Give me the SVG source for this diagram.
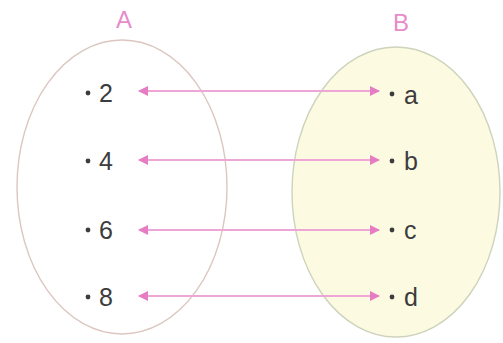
<svg xmlns="http://www.w3.org/2000/svg" width="503" height="343" viewBox="0 0 503 343">
<style>
.set{font-family:"Liberation Sans",Arial,sans-serif;font-size:24px;fill:#e68ccb;text-anchor:middle}
.el{font-family:"Liberation Sans",Arial,sans-serif;font-size:25px;fill:#3c3c3c}
.dot{fill:#3c3c3c}
.arr{stroke:#eea6d6;stroke-width:1.8;fill:none;marker-start:url(#ah);marker-end:url(#ah)}
</style>
<defs>
<marker id="ah" viewBox="0 0 10 10" refX="9" refY="5" markerWidth="12" markerHeight="10" orient="auto-start-reverse" markerUnits="userSpaceOnUse">
<path d="M0,0 L10,5 L0,10 z" fill="#e67cc4"/>
</marker>
</defs>
<g id="setA">
<ellipse cx="122" cy="187" rx="105" ry="147" fill="#ffffff" stroke="#dcc6c0" stroke-width="1.4"/>
<text class="set" x="124" y="28">A</text>
</g>
<g id="setB">
<ellipse cx="396" cy="192" rx="104" ry="145" fill="#fcfbe2" stroke="#ced3bc" stroke-width="1.4"/>
<text class="set" x="401" y="31">B</text>
</g>
<g id="n2"><circle class="dot" cx="88" cy="93" r="2.4"/><text class="el" x="99" y="102">2</text></g>
<g id="n4"><circle class="dot" cx="88" cy="161" r="2.4"/><text class="el" x="99" y="170">4</text></g>
<g id="n6"><circle class="dot" cx="88" cy="230" r="2.4"/><text class="el" x="99" y="239">6</text></g>
<g id="n8"><circle class="dot" cx="88" cy="297" r="2.4"/><text class="el" x="99" y="306">8</text></g>
<g id="na"><circle class="dot" cx="392" cy="94" r="2.4"/><text class="el" x="404" y="104">a</text></g>
<g id="nb"><circle class="dot" cx="392" cy="161" r="2.4"/><text class="el" x="404" y="170">b</text></g>
<g id="nc"><circle class="dot" cx="392" cy="230" r="2.4"/><text class="el" x="404" y="239">c</text></g>
<g id="nd"><circle class="dot" cx="392" cy="297" r="2.4"/><text class="el" x="404" y="306">d</text></g>
<g id="connectors">
<line class="arr" x1="139" y1="91" x2="379" y2="91"/>
<line class="arr" x1="139" y1="160" x2="379" y2="160"/>
<line class="arr" x1="139" y1="230" x2="379" y2="230"/>
<line class="arr" x1="139" y1="296" x2="379" y2="296"/>
</g>
</svg>
